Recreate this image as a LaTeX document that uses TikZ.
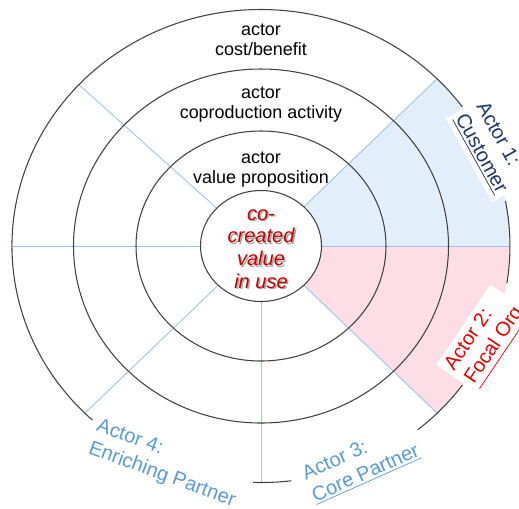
\documentclass[tikz,border=0pt]{standalone}
\usepackage{fontspec}
\setmainfont{Liberation Sans}
\usepackage{tikz}

\definecolor{ringgray}{HTML}{404040}
\definecolor{spokeblue}{HTML}{9DC3E6}
\definecolor{custfill}{HTML}{E2EEFA}
\definecolor{focalfill}{HTML}{FDDDE6}
\definecolor{valuered}{HTML}{C00000}
\definecolor{custnavy}{HTML}{203864}
\definecolor{focalred}{HTML}{E00000}
\definecolor{partnerblue}{HTML}{5B9BD5}

\begin{document}
\begin{tikzpicture}[scale=0.2]
	\tikzstyle{every node}+=[inner sep=0pt]
	\tikzstyle{ring}=[ringgray, line width=0.6pt]
	\tikzstyle{spoke}=[spokeblue, line width=0.5pt]
	\tikzstyle{layer}=[align=center, font=\fontsize{10.2}{11.4}\selectfont]
	\tikzstyle{actorbox}=[fill=white, align=left, inner sep=2.5pt, font=\fontsize{11.4}{13.7}\selectfont]
	\useasboundingbox (0,0) rectangle (51.9,-50.8);
	\fill [custfill] (51,-24.6) arc (0:45:24.9 and 23.65) -- (30.38,-20.68) arc (45:0:6.05 and 5.55) -- cycle;
	\fill [focalfill] (51,-24.6) arc (0:-45:24.9 and 23.65) -- (30.38,-28.52) arc (-45:0:6.05 and 5.55) -- cycle;
	\draw [spoke] (32.15,-24.6) -- (51,-24.6);
	\draw [spoke] (30.38,-20.68) -- (43.71,-7.88);
	\draw [spoke] (21.68,-20.82) -- (7.89,-8.47);
	\draw [spoke] (20.05,-24.6) -- (1.2,-24.6);
	\draw [spoke] (21.82,-28.52) -- (8.49,-41.32);
	\draw [spoke] (26.1,-30.15) -- (26.1,-48.25);
	\draw [spoke] (30.38,-28.52) -- (43.71,-41.32);
	\draw [ring] (26.1,-24.6) ellipse (6.05 and 5.55);
	\draw [ring] (26.1,-24.6) ellipse (12.5 and 11.5);
	\draw [ring] (26.1,-24.6) ellipse (18.75 and 17.7);
	\draw [ring] (46.24,-10.7) arc (36:227.4:24.9 and 23.65);
	\draw [ring] (25.32,-48.24) arc (-91.8:-83:24.9 and 23.65);
	\draw [ring] (41.77,-42.98) arc (-51:-36:24.9 and 23.65);
	\draw [ring] (50.69,-28.3) arc (-9:11:24.9 and 23.65);
	\draw (26.1,-4.0) node (costlayer) [layer] {actor\\cost/benefit};
	\draw (26.1,-10.5) node (coprodlayer) [layer] {actor\\coproduction activity};
	\draw (26.1,-17.0) node (proplayer) [layer] {actor\\value proposition};
	\draw (26.25,-25.05) node (valueshadow) [align=center, text=black!35, font=\fontsize{11.4}{12.9}\selectfont\itshape] {co-\\created\\value\\in use};
	\draw (26.1,-24.9) node (valueinuse) [align=center, text=valuered, font=\fontsize{11.4}{12.9}\selectfont\itshape] {co-\\created\\value\\in use};
	\draw (49.1,-14.8) node (customer) [actorbox, rotate=-61, text=custnavy] {Actor 1:\\\underline{Customer}};
	\draw (48.6,-34.0) node (focalorg) [actorbox, rotate=56, text=focalred] {Actor 2:\\\underline{Focal Org}};
	\draw (36.1,-46.3) node (corepartner) [actorbox, rotate=24, text=partnerblue] {Actor 3:\\\underline{Core Partner}};
	\draw (16.6,-46.4) node (enrichpartner) [actorbox, rotate=-20, text=partnerblue] {Actor 4:\\Enriching Partner};
\end{tikzpicture}
\end{document}
